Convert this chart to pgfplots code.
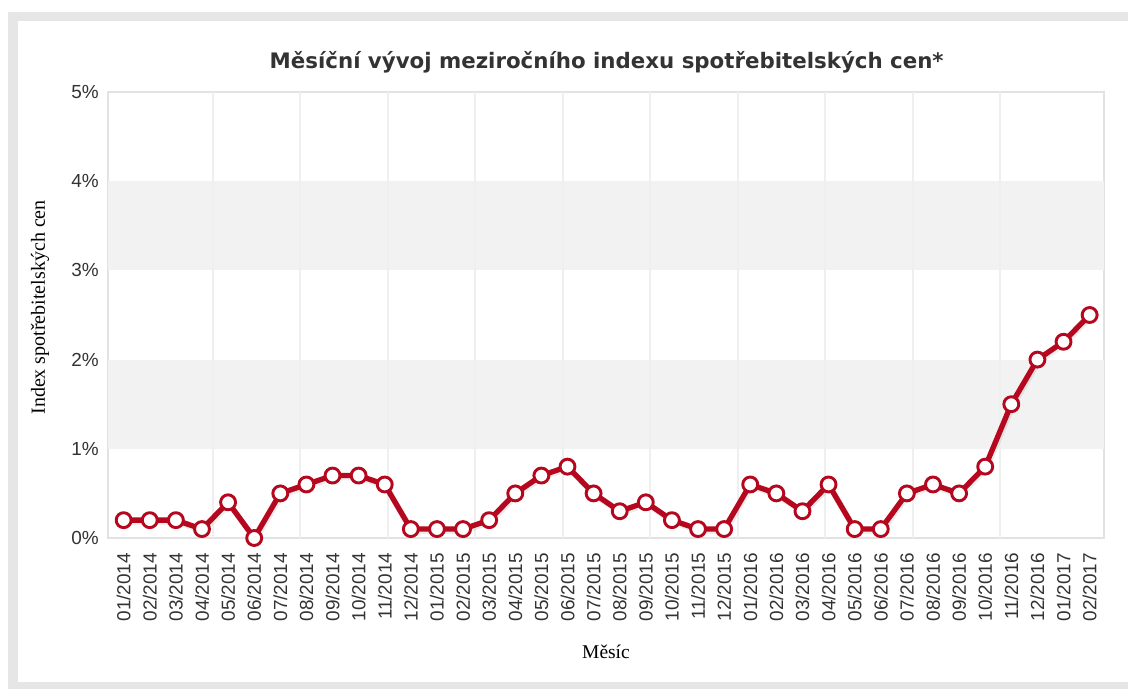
\documentclass[border=0pt]{standalone}
\usepackage{pgfplots}
\pgfplotsset{compat=1.18}
\usepackage{fontspec}
\setmainfont{Liberation Serif}
\newfontfamily\arial{Liberation Sans}
\newfontfamily\titlefont{DejaVu Sans}
\definecolor{frame}{HTML}{E6E6E6}
\definecolor{band}{HTML}{F2F2F2}
\definecolor{gridc}{HTML}{EFEFEF}
\definecolor{border}{HTML}{E2E2E2}
\definecolor{lred}{HTML}{B5081E}
\definecolor{txt}{HTML}{333333}
\pgfplotstableread{
i v
0 0.2
1 0.2
2 0.2
3 0.1
4 0.4
5 0.0
6 0.5
7 0.6
8 0.7
9 0.7
10 0.6
11 0.1
12 0.1
13 0.1
14 0.2
15 0.5
16 0.7
17 0.8
18 0.5
19 0.3
20 0.4
21 0.2
22 0.1
23 0.1
24 0.6
25 0.5
26 0.3
27 0.6
28 0.1
29 0.1
30 0.5
31 0.6
32 0.5
33 0.8
34 1.5
35 2.0
36 2.2
37 2.5
}\cpi
\begin{document}
\begin{tikzpicture}
\useasboundingbox (0,0) rectangle (846pt,516.75pt);
\fill[white] (0,0) rectangle (846pt,516.75pt);
\fill[frame] (6pt,0) rectangle (846pt,507.75pt);
\fill[white] (13.5pt,5.25pt) rectangle (846pt,501pt);
\node[font=\titlefont\bfseries\fontsize{16}{18}\selectfont, text=txt] at (455pt,470pt) {Měsíční vývoj meziročního indexu spotřebitelských cen*};
\begin{axis}[
  at={(81pt,113.25pt)}, anchor=south west,
  scale only axis, width=747pt, height=334.5pt,
  xmin=-0.6, xmax=37.55, ymin=0, ymax=5,
  clip=false,
  axis line style={draw=border, line width=2.2pt},
  major tick length=0pt, tick style={draw=none},
  xtick={0,...,37},
  xticklabels={01/2014,02/2014,03/2014,04/2014,05/2014,06/2014,07/2014,08/2014,09/2014,10/2014,11/2014,12/2014,01/2015,02/2015,03/2015,04/2015,05/2015,06/2015,07/2015,08/2015,09/2015,10/2015,11/2015,12/2015,01/2016,02/2016,03/2016,04/2016,05/2016,06/2016,07/2016,08/2016,09/2016,10/2016,11/2016,12/2016,01/2017,02/2017},
  ytick={0,1,2,3,4,5},
  yticklabels={0\%,1\%,2\%,3\%,4\%,5\%},
  /pgf/number format/assume math mode=true,
  xticklabel style={rotate=90, anchor=east, inner sep=0pt, font=\arial\fontsize{14.2}{16}\selectfont, text=txt},
  yticklabel style={anchor=east, inner sep=0pt, font=\arial\fontsize{14.2}{16}\selectfont, text=txt},
  xticklabel shift=11pt,
  yticklabel shift=6.75pt,
  xlabel={Měsíc},
  ylabel={Index spotřebitelských cen},
  every axis x label/.style={at={(rel axis cs:0.5,-0.2556)}, anchor=center, font=\fontsize{14.6}{16}\selectfont},
  every axis y label/.style={at={(rel axis cs:-0.0683,0.517)}, anchor=center, rotate=90, font=\fontsize{15}{16}\selectfont},
]
\fill[band] (axis cs:-0.6,1) rectangle (axis cs:37.55,2);
\fill[band] (axis cs:-0.6,3) rectangle (axis cs:37.55,4);
\pgfplotsinvokeforeach{3.42,6.77,10.12,13.47,16.82,20.17,23.52,26.87,30.22,33.57}{
  \draw[gridc, line width=1.5pt] (axis cs:#1,0) -- (axis cs:#1,5);
}
\addplot[black, opacity=0.07, line width=4.8pt, line join=round, shift={(0.8pt,-1.2pt)}, forget plot] table[x=i,y=v] {\cpi};
\addplot[lred, line width=4pt, line join=round, mark=*, mark size=5.6pt,
  mark options={fill=white, draw=lred, line width=2.2pt}] table[x=i,y=v] {\cpi};
\end{axis}
\end{tikzpicture}
\end{document}
